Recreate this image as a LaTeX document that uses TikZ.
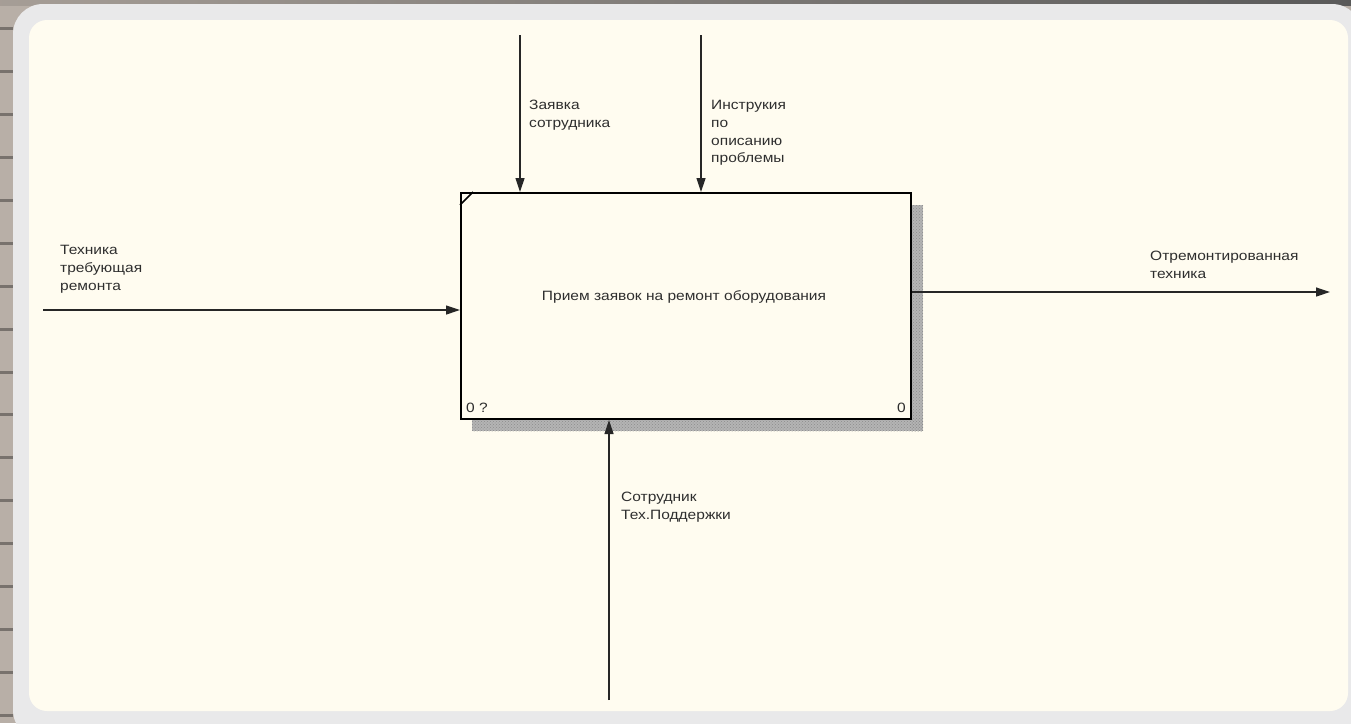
\documentclass[tikz,border=0pt]{standalone}
\usepackage{fontspec}
\setmainfont{Liberation Sans}
\newfontfamily\idef[FakeStretch=1.15]{Liberation Sans}
\usetikzlibrary{arrows.meta,patterns}
\definecolor{bgstrip}{HTML}{B8AFA7}
\definecolor{framegray}{HTML}{E9E9EA}
\definecolor{paper}{HTML}{FFFCF0}
\definecolor{shadowgray}{HTML}{B4B4B4}
\definecolor{inkgray}{HTML}{2E2E2E}
\begin{document}
\begin{tikzpicture}[x=1pt,y=-1pt,
  lbl/.style={anchor=north west,inner sep=0pt,align=left,text=inkgray,
    font=\idef\fontsize{13.5}{17.8}\selectfont},
  arr/.style={line width=1.2pt,draw=black!85,
    -{Triangle[length=14pt,width=9pt]}},
  idefbox/.style={draw=black,line width=2pt,fill=paper,inner sep=0pt,
    minimum width=450pt,minimum height=226pt,anchor=north west}]
\useasboundingbox (0,0) rectangle (1351,723);
% background
\fill[bgstrip] (0,0) rectangle (1351,723);
\foreach \yy in {27,70,113,156,199,242,285,328,371,413,456,499,542,585,628,671,714}
  \fill[black!35!bgstrip] (0,\yy) rectangle (13,\yy+3);
\shade[left color=bgstrip!90!black,right color=black!65] (0,0) rectangle (1351,5);
\fill[framegray,rounded corners=30pt] (13,4) rectangle (1362,740);
\fill[paper,rounded corners=18pt] (29,20) rectangle (1348,711);
% shadow
\fill[shadowgray] (910,205) rectangle (923,431);
\fill[shadowgray] (472,418) rectangle (923,431);
\fill[pattern=crosshatch dots,pattern color=black!45] (910,205) rectangle (923,431);
\fill[pattern=crosshatch dots,pattern color=black!45] (472,418) rectangle (923,431);
% box
\node[idefbox] (box) at (460,192) {};
\draw[line width=1.5pt] ([yshift=-13pt]box.north west) -- ([xshift=13pt]box.north west);
\node[lbl,anchor=base] (title) at (684,300) {Прием заявок на ремонт оборудования};
\node[lbl,anchor=base west] (num) at (466,412) {0 ?};
\node[lbl,anchor=base east] (numr) at (906,412) {0};
% connectors
\coordinate (c1) at (520,35);
\coordinate (c2) at (701,35);
\coordinate (in) at (43,310);
\coordinate (out) at (1330,292);
\coordinate (mech) at (609,700);
\draw[arr] (c1) -- (c1 |- box.north);
\draw[arr] (c2) -- (c2 |- box.north);
\draw[arr] (in) -- (in -| box.west);
\draw[arr] (box.east |- out) -- (out);
\draw[arr] (mech) -- (mech |- box.south);
% labels
\node[lbl] (l1) at (529,100) {Заявка\\сотрудника};
\node[lbl] (l2) at (711,100) {Инструкия\\по\\описанию\\проблемы};
\node[lbl] (l3) at (60,245) {Техника\\требующая\\ремонта};
\node[lbl] (l4) at (1150,251) {Отремонтированная\\техника};
\node[lbl] (l5) at (621,492) {Сотрудник\\Тех.Поддержки};
\end{tikzpicture}
\end{document}
